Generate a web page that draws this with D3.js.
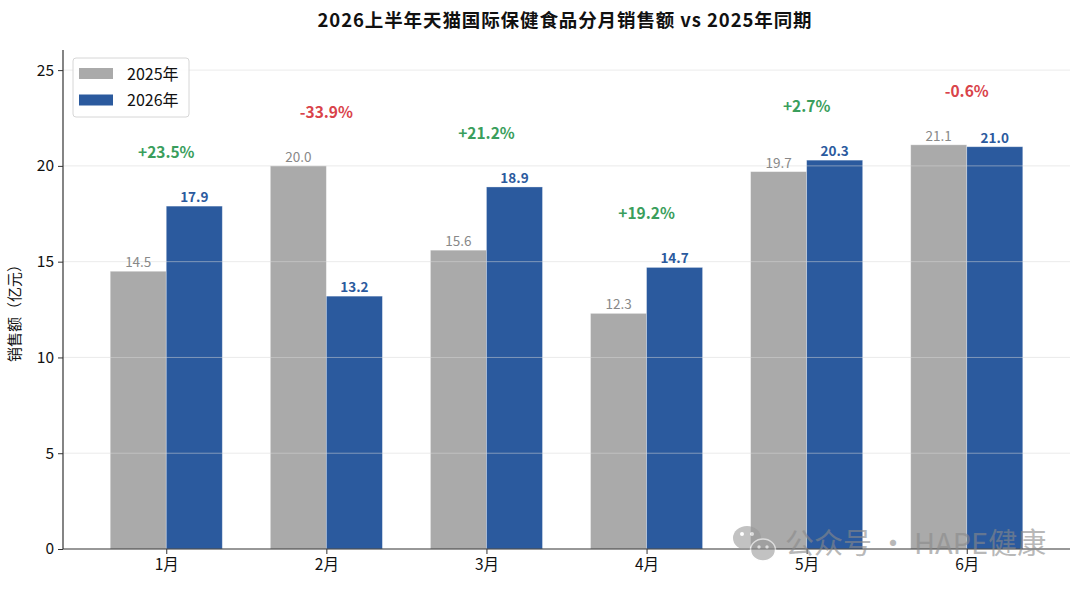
<!DOCTYPE html>
<html><head><meta charset="utf-8">
<script src="https://cdn.jsdelivr.net/npm/d3@7"></script>
<style>
html,body{margin:0;padding:0;background:#fff;}
svg{display:block;font-family:"Noto Sans CJK SC","Noto Sans",sans-serif;}
</style></head>
<body>
<svg id="chart" width="1080" height="589"></svg>
<script>
const months = ["1月","2月","3月","4月","5月","6月"];
const sales2025 = [14.5, 20.0, 15.6, 12.3, 19.7, 21.1];
const sales2026 = [17.9, 13.2, 18.9, 14.7, 20.3, 21.0];
const growthLabels = ["+23.5%","-33.9%","+21.2%","+19.2%","+2.7%","-0.6%"];
const yTicks = [0,5,10,15,20,25];
const seriesNames = ["2025年","2026年"];

const W = 1080, H = 589;
const m = {left:63, right:10, top:50, bottom:40};
const svg = d3.select("#chart");
const x = d3.scaleLinear().domain([-0.645, 5.645]).range([m.left, W - m.right]);
const y = d3.scaleLinear().domain([0, 26.05]).range([H - m.bottom, m.top]);
const bw = 0.35;
const cGray = "#aaaaaa", cBlue = "#2b5a9e", cGreen = "#3a9e5c", cRed = "#d9434a";

// title
svg.append("text").attr("x", 565).attr("y", 27).attr("text-anchor","middle")
  .attr("font-size", 18.5).attr("font-weight","bold").attr("fill","#111")
  .attr("letter-spacing", 0.9)
  .text("2026上半年天猫国际保健食品分月销售额 vs 2025年同期");

// bars
const g = svg.append("g");
months.forEach((mo,i)=>{
  g.append("rect").attr("x", x(i - bw)).attr("width", x(i) - x(i - bw))
    .attr("y", y(sales2025[i])).attr("height", y(0) - y(sales2025[i]))
    .attr("fill", cGray).attr("stroke","#fff").attr("stroke-opacity",0.4).attr("stroke-width",0.8);
  g.append("rect").attr("x", x(i)).attr("width", x(i + bw) - x(i))
    .attr("y", y(sales2026[i])).attr("height", y(0) - y(sales2026[i]))
    .attr("fill", cBlue).attr("stroke","#fff").attr("stroke-opacity",0.4).attr("stroke-width",0.8);
});

// grid on top (light, translucent)
svg.append("g").selectAll("line").data(yTicks.filter(d=>d>0)).join("line")
  .attr("x1", m.left).attr("x2", W - m.right)
  .attr("y1", d=>y(d)).attr("y2", d=>y(d))
  .attr("stroke","#d8d8d8").attr("stroke-opacity",0.5).attr("stroke-width",1);

// axes
const yAxis = svg.append("g").attr("transform",`translate(${m.left},0)`)
  .call(d3.axisLeft(y).tickValues(yTicks).tickSize(5).tickPadding(4).tickFormat(d3.format("d")));
const xAxis = svg.append("g").attr("transform",`translate(0,${y(0)})`)
  .call(d3.axisBottom(x).tickValues(d3.range(months.length)).tickSize(5).tickPadding(5).tickFormat(i=>months[i]));
[yAxis, xAxis].forEach(a=>{
  a.select(".domain").attr("stroke","#333").attr("stroke-width",1.2);
  a.selectAll(".tick line").attr("stroke","#333");
  a.selectAll(".tick text").attr("font-size",15.5).attr("fill","#111")
   .attr("font-family","'Noto Sans CJK SC',sans-serif");
});
xAxis.select(".domain").attr("d", `M${m.left},0H${W - m.right}`);
yAxis.select(".domain").attr("d", `M0,${y(0)}V${m.top}`);

// y label
svg.append("text").attr("transform",`translate(20,${(y(0)+m.top)/2 + 10}) rotate(-90)`)
  .attr("text-anchor","middle").attr("font-size",15).attr("fill","#111")
  .text("销售额（亿元）");

// value labels
months.forEach((mo,i)=>{
  svg.append("text").attr("x", x(i - bw/2)).attr("y", y(sales2025[i]) - 4)
    .attr("text-anchor","middle").attr("font-size",13.5).attr("fill","#888")
    .text(sales2025[i].toFixed(1));
  svg.append("text").attr("x", x(i + bw/2)).attr("y", y(sales2026[i]) - 4)
    .attr("text-anchor","middle").attr("font-size",13.5).attr("font-weight","bold").attr("fill",cBlue)
    .text(sales2026[i].toFixed(1));
  const top = Math.max(sales2025[i], sales2026[i]);
  svg.append("text").attr("x", x(i)).attr("y", y(top + 2.8)).attr("dy","0.35em")
    .attr("text-anchor","middle").attr("font-size",15.5).attr("font-weight","bold")
    .attr("fill", growthLabels[i].startsWith("-") ? cRed : cGreen)
    .text(growthLabels[i]);
});

// legend
const lg = svg.append("g").attr("transform","translate(73,58)");
lg.append("rect").attr("width",116).attr("height",59).attr("rx",3)
  .attr("fill","#fff").attr("fill-opacity",0.85).attr("stroke","#d6d6d6");
[cGray, cBlue].forEach((c,k)=>{
  lg.append("rect").attr("x",6).attr("y",10 + k*26.5).attr("width",34).attr("height",11).attr("fill",c);
  lg.append("text").attr("x",54).attr("y",16 + k*26.5).attr("dy","0.35em")
    .attr("font-size",16).attr("fill","#111").text(seriesNames[k]);
});

// watermark
const wm = svg.append("g").attr("opacity",0.6);
wm.append("ellipse").attr("cx",747).attr("cy",538).attr("rx",14).attr("ry",12).attr("fill","#9a9a9a");
wm.append("circle").attr("cx",742).attr("cy",534).attr("r",2).attr("fill","#fff");
wm.append("circle").attr("cx",752).attr("cy",534).attr("r",2).attr("fill","#fff");
wm.append("ellipse").attr("cx",763).attr("cy",550).attr("rx",12.5).attr("ry",11).attr("fill","#9a9a9a").attr("stroke","#fff").attr("stroke-width",1.5);
wm.append("circle").attr("cx",759).attr("cy",547).attr("r",1.7).attr("fill","#fff");
wm.append("circle").attr("cx",767).attr("cy",547).attr("r",1.7).attr("fill","#fff");
wm.append("text").attr("x",785).attr("y",554).attr("font-size",29).attr("fill","#8a8a8a")
  .text("公众号 · HAPE健康");
</script>
</body></html>
